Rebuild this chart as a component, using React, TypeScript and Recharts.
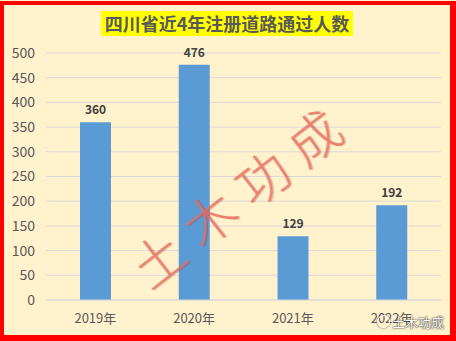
import { BarChart, Bar, XAxis, YAxis, CartesianGrid, LabelList } from 'recharts';

const years = ['2019年', '2020年', '2021年', '2022年'];
const passed = [360, 476, 129, 192];
const yTicks = [0, 50, 100, 150, 200, 250, 300, 350, 400, 450, 500];

const data = years.map((year, i) => ({ year, passed: passed[i] }));

const textGray = '#595959';
const cjkFont = '"Noto Sans CJK SC", "Noto Sans", sans-serif';

export default function App() {
  return (
    <div
      style={{
        position: 'absolute',
        left: 0,
        top: 0,
        width: 456,
        height: 341,
        background: '#FFF2CC',
        fontFamily: cjkFont,
        overflow: 'hidden',
      }}
    >
      <BarChart
        width={456}
        height={341}
        data={data}
        margin={{ top: 53, right: 15, left: 0, bottom: 11 }}
      >
        <CartesianGrid vertical={false} stroke="#D9D9D9" strokeWidth={1} />
        <XAxis
          dataKey="year"
          height={30}
          tickLine={false}
          axisLine={{ stroke: '#D9D9D9' }}
          tick={{ fill: textGray, fontSize: 13 }}
          tickMargin={8}
        />
        <YAxis
          width={46}
          domain={[0, 500]}
          ticks={yTicks}
          interval={0}
          tickLine={false}
          axisLine={false}
          tick={{ fill: textGray, fontSize: 14 }}
          tickMargin={5}
        />
        <Bar dataKey="passed" fill="#5B9BD5" barSize={31} isAnimationActive={false}>
          <LabelList
            dataKey="passed"
            position="top"
            offset={8}
            fill="#404040"
            fontSize={12}
            fontWeight="bold"
          />
        </Bar>
      </BarChart>

      {/* title banner */}
      <div
        style={{
          position: 'absolute',
          left: 101,
          top: 11,
          width: 252,
          height: 25,
          background: '#FFFF00',
          color: textGray,
          fontSize: 18,
          fontWeight: 'bold',
          lineHeight: '25px',
          textAlign: 'center',
          whiteSpace: 'nowrap',
        }}
      >
        四川省近4年注册道路通过人数
      </div>

      {/* diagonal watermark */}
      <div
        style={{
          position: 'absolute',
          left: 240,
          top: 192,
          transform: 'translate(-50%, -50%) rotate(-38deg)',
          color: 'rgba(240, 110, 95, 0.75)',
          fontSize: 52,
          letterSpacing: 14,
          whiteSpace: 'nowrap',
          fontFamily: '"Noto Sans CJK SC", serif',
          fontWeight: 300,
          textShadow: '1px 1px 1px rgba(150, 60, 60, 0.35)',
          pointerEvents: 'none',
        }}
      >
        土木功成
      </div>

      {/* corner badge */}
      <div
        style={{
          position: 'absolute',
          left: 377,
          top: 312,
          display: 'flex',
          alignItems: 'center',
          gap: 2,
          color: '#ffffff',
          fontSize: 13,
          textShadow: '0 0 2px #222, 0 0 1px #222',
          whiteSpace: 'nowrap',
        }}
      >
        <span
          style={{
            width: 11,
            height: 11,
            borderRadius: '50%',
            border: '1.5px solid #ffffff',
            boxShadow: '0 0 2px #333',
            display: 'inline-block',
          }}
        />
        土木功成
      </div>

      {/* red frame */}
      <div
        style={{
          position: 'absolute',
          left: 0,
          top: 1,
          width: 456,
          height: 340,
          boxSizing: 'border-box',
          borderStyle: 'solid',
          borderColor: '#FF0000',
          borderWidth: '4px 6px 6px 4px',
          pointerEvents: 'none',
        }}
      />
    </div>
  );
}
